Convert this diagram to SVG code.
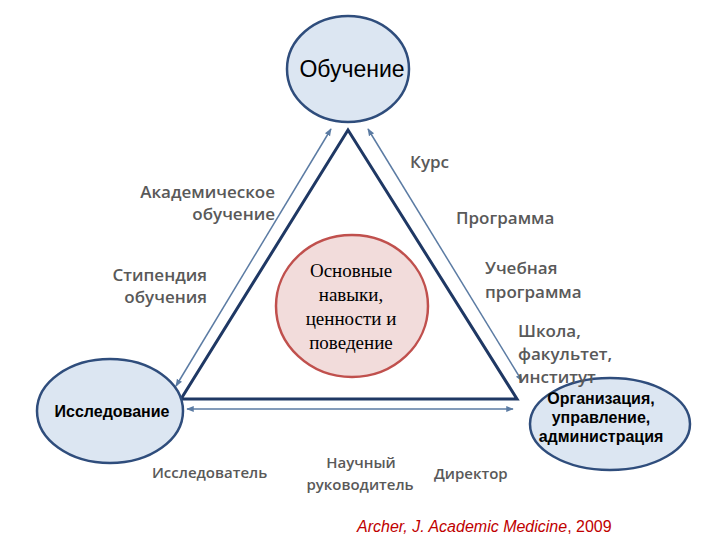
<svg xmlns="http://www.w3.org/2000/svg" width="720" height="540" viewBox="0 0 720 540">
<style>
.node{fill:#dce6f2;stroke:#2f4d7c;stroke-width:2.5}
.core{fill:#f2dcdb;stroke:#c0504d;stroke-width:2.5}
.lbl{font-family:"Open Sans","Liberation Sans",sans-serif;font-weight:600;font-size:17px;fill:#595959}
.sm{font-size:15px}
.nt{font-family:"Liberation Sans",Arial,sans-serif;font-weight:bold;font-size:16px;fill:#000}
.ser{font-family:"Liberation Serif","Times New Roman",serif;font-size:19px;fill:#000}
.arr{stroke:#5b7ba3;stroke-width:1.5;fill:none;marker-start:url(#ah);marker-end:url(#ah)}
</style>
<defs>
<marker id="ah" viewBox="0 0 10 10" refX="9" refY="5" markerWidth="5" markerHeight="5" orient="auto-start-reverse">
<path d="M0,1 L10,5 L0,9 Z" fill="#5b7ba3"/>
</marker>
</defs>
<rect width="720" height="540" fill="#fff"/>
<g id="connectors">
<polygon points="348,130 181,399 517,399" fill="none" stroke="#1f3864" stroke-width="3" stroke-linejoin="miter"/>
<line class="arr" x1="176" y1="386" x2="331" y2="129"/>
<line class="arr" x1="368" y1="129" x2="522" y2="381"/>
<line class="arr" x1="187" y1="409" x2="513" y2="409"/>
</g>
<g id="n-top">
<ellipse class="node" cx="348" cy="69" rx="61" ry="53"/>
<text x="352" y="77" text-anchor="middle" font-family="Liberation Sans,Arial,sans-serif" font-size="23" fill="#000">Обучение</text>
</g>
<g id="n-left">
<ellipse class="node" cx="110" cy="411" rx="73" ry="52"/>
<text class="nt" x="112" y="417" text-anchor="middle" font-size="17.5">Исследование</text>
</g>
<g id="n-right">
<ellipse class="node" cx="610" cy="424" rx="80" ry="46"/>
<text class="nt" x="601" y="404" text-anchor="middle">Организация,</text>
<text class="nt" x="601" y="423" text-anchor="middle">управление,</text>
<text class="nt" x="601" y="442" text-anchor="middle">администрация</text>
</g>
<g id="n-core">
<ellipse class="core" cx="352" cy="306" rx="76" ry="71"/>
<text class="ser" x="351" y="277" text-anchor="middle">Основные</text>
<text class="ser" x="351" y="301" text-anchor="middle">навыки,</text>
<text class="ser" x="351" y="325" text-anchor="middle">ценности и</text>
<text class="ser" x="351" y="349" text-anchor="middle">поведение</text>
</g>
<g id="labels">
<text class="lbl" x="410" y="168">Курс</text>
<text class="lbl" x="275" y="198" text-anchor="end">Академическое</text>
<text class="lbl" x="275" y="220" text-anchor="end">обучение</text>
<text class="lbl" x="456" y="224">Программа</text>
<text class="lbl" x="207" y="281" text-anchor="end">Стипендия</text>
<text class="lbl" x="207" y="303" text-anchor="end">обучения</text>
<text class="lbl" x="485" y="274">Учебная</text>
<text class="lbl" x="485" y="298">программа</text>
<text class="lbl" x="518" y="337">Школа,</text>
<text class="lbl" x="518" y="360">факультет,</text>
<text class="lbl" x="518" y="383">институт</text>
<text class="lbl sm" x="152" y="478">Исследователь</text>
<text class="lbl sm" x="361" y="468" text-anchor="middle">Научный</text>
<text class="lbl sm" x="360" y="490" text-anchor="middle">руководитель</text>
<text class="lbl sm" x="434" y="479">Директор</text>
<text x="357" y="532" font-family="Liberation Sans,Arial,sans-serif" font-size="16" fill="#c00000"><tspan font-style="italic">Archer, J. Academic Medicine</tspan>, 2009</text>
</g>
</svg>
